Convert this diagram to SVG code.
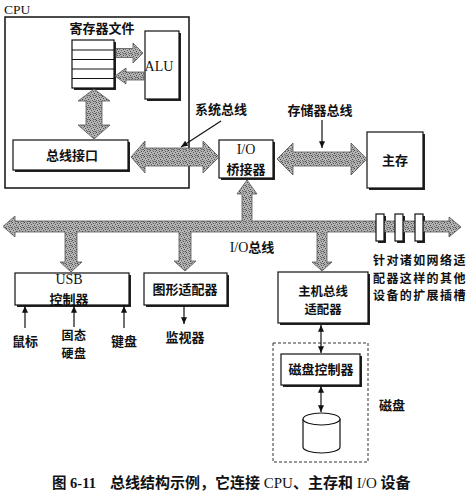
<svg xmlns="http://www.w3.org/2000/svg" width="476" height="500" viewBox="0 0 476 500">
<style>
.box{fill:#fff;stroke:#111;stroke-width:1.2}
.sh{fill:#222}
.zh{font-family:"Noto Sans CJK SC","Noto Sans",sans-serif;font-size:13px;font-weight:bold;fill:#111;text-anchor:middle}
.st{text-anchor:start}
.en{font-family:"Liberation Serif","Noto Sans CJK SC",serif;font-size:14px;font-weight:normal;fill:#111;text-anchor:middle}
.lat{font-family:"Liberation Serif",serif;font-weight:normal}
.big{fill:url(#stip);stroke:#555;stroke-width:0.8;stroke-linejoin:miter}
.thin{stroke:#111;stroke-width:1.2;fill:none}
</style>
<defs>
<pattern id="stip" width="6" height="6" patternUnits="userSpaceOnUse">
<rect width="6" height="6" fill="#b4b4b4"/>
<rect x="0" y="0" width="1" height="1" fill="#444"/>
<rect x="3" y="1" width="1" height="1" fill="#555"/>
<rect x="1" y="2" width="1" height="1" fill="#555"/>
<rect x="4" y="3" width="1" height="1" fill="#444"/>
<rect x="2" y="4" width="1" height="1" fill="#666"/>
<rect x="5" y="5" width="1" height="1" fill="#555"/>
<rect x="0" y="4" width="1" height="1" fill="#777"/>
<rect x="5" y="1" width="1" height="1" fill="#777"/>
<rect x="3" y="5" width="1" height="1" fill="#666"/>
<rect x="2" y="0" width="1" height="1" fill="#888"/>
<rect x="4" y="5" width="1" height="1" fill="#888"/>
</pattern>
<marker id="ah" viewBox="0 0 8 7" refX="8" refY="3.5" markerWidth="7" markerHeight="6" markerUnits="userSpaceOnUse" orient="auto-start-reverse">
<path d="M0,0 L8,3.5 L0,7 z" fill="#111"/>
</marker>
</defs>

<g id="cpu">
<text x="4" y="14" font-family="Liberation Serif,serif" font-size="13.5" fill="#111">CPU</text>
<rect x="5" y="17" width="184" height="171" fill="none" stroke="#111" stroke-width="1.5"/>
</g>

<g id="regfile">
<text class="zh" x="102" y="33">寄存器文件</text>
<rect class="sh" x="74" y="42" width="42" height="48"/>
<rect class="box" x="72" y="40" width="42" height="48"/>
<path d="M72,50H114M72,59.5H114M72,69H114M72,78.5H114" stroke="#111" stroke-width="1"/>
</g>

<g id="alu">
<rect class="sh" x="147" y="33" width="34" height="68"/>
<rect class="box" x="145" y="31" width="34" height="68"/>
<text class="en" x="159" y="71">ALU</text>
</g>

<g id="businterface">
<rect class="sh" x="15" y="142" width="115" height="30"/>
<rect class="box" x="13" y="140" width="115" height="30"/>
<text class="zh" x="72" y="160">总线接口</text>
</g>

<g id="iobridge">
<rect class="sh" x="221" y="142" width="54" height="38"/>
<rect class="box" x="219" y="140" width="54" height="38"/>
<text class="en" x="246" y="154">I/O</text>
<text class="zh" x="246" y="173.5">桥接器</text>
</g>

<g id="mainmem">
<rect class="sh" x="369" y="134" width="56" height="56"/>
<rect class="box" x="367" y="132" width="56" height="56"/>
<text class="zh" x="395" y="165">主存</text>
</g>

<g id="usb">
<rect class="sh" x="17" y="275" width="114" height="32"/>
<rect class="box" x="15" y="273" width="114" height="32"/>
<text class="en" x="69" y="284">USB</text>
<text class="zh" x="69" y="303.5">控制器</text>
</g>

<g id="graphics">
<rect class="sh" x="146" y="275" width="83" height="32"/>
<rect class="box" x="144" y="273" width="83" height="32"/>
<text class="zh" x="185" y="294">图形适配器</text>
</g>

<g id="hostadapter">
<rect class="sh" x="280" y="274" width="90" height="51"/>
<rect class="box" x="278" y="272" width="90" height="51"/>
<text class="zh" x="323" y="296" style="font-size:12.4px">主机总线<tspan x="323" dy="18.2">适配器</tspan></text>
</g>

<g id="disk">
<rect x="273" y="343" width="95" height="119" fill="none" stroke="#333" stroke-width="1" stroke-dasharray="3,2"/>
<text class="zh" x="392" y="410">磁盘</text>
</g>

<g id="diskcontroller">
<rect class="sh" x="283" y="356" width="79" height="31"/>
<rect class="box" x="281" y="354" width="79" height="31"/>
<text class="zh" x="321" y="374">磁盘控制器</text>
</g>

<g id="platter">
<path d="M303,419 L303,447 A18.5,6 0 0 0 340,447 L340,419" fill="#fff" stroke="#111" stroke-width="1.2"/>
<ellipse cx="321.5" cy="419" rx="18.5" ry="6" fill="#fff" stroke="#111" stroke-width="1.2"/>
</g>

<g id="devices">
<text class="zh" x="25" y="346">鼠标</text>
<text class="zh" x="74" y="340" style="font-size:12px;letter-spacing:0.5px">固态<tspan x="74" dy="17.6">硬盘</tspan></text>
<text class="zh" x="124" y="346">键盘</text>
<text class="zh" x="185" y="342">监视器</text>
</g>

<g id="slots">
<rect class="sh" x="378" y="216" width="8" height="27"/>
<rect class="sh" x="397" y="216" width="8" height="27"/>
<rect class="sh" x="417" y="216" width="8" height="27"/>
</g>

<g id="connectors">
<polygon class="big" points="131,157 145,141 145,148 203,148 203,141 219,157 203,173 203,166 145,166 145,173"/>
<polygon class="big" points="277,159 293,143 293,152 351,152 351,143 367,159 351,175 351,166 293,166 293,175"/>
<polygon class="big" points="116,48.5 133,48.5 133,43 143,53 133,63 133,57.5 116,57.5"/>
<polygon class="big" points="144,72 126,72 126,68 115,76 126,84 126,80 144,80"/>
<polygon class="big" points="94,89 110,101 102,101 102,125 110,125 94,139 78,125 86,125 86,101 78,101"/>
<polygon class="big" points="3,226.5 15,216 15,221 242,221 242,194 237,194 247,180 257,194 252,194 252,221 449,221 449,217 461,227 449,237 449,232 327,232 327,262 332,262 322,271 312,262 317,262 317,232 191,232 191,261 196,261 185,271 174,261 179,261 179,232 77,232 77,262 82,262 71,272 60,262 65,262 65,232 15,232 15,237"/>
<line class="thin" x1="221" y1="121" x2="181" y2="147" marker-end="url(#ah)"/>
<line class="thin" x1="322" y1="120" x2="322" y2="148" marker-end="url(#ah)"/>
<line class="thin" x1="25" y1="328" x2="25" y2="306" marker-end="url(#ah)"/>
<line class="thin" x1="74" y1="327" x2="74" y2="306" marker-end="url(#ah)"/>
<line class="thin" x1="124" y1="328" x2="124" y2="306" marker-end="url(#ah)"/>
<line class="thin" x1="184" y1="306" x2="184" y2="324" marker-end="url(#ah)"/>
<line class="thin" x1="321" y1="325" x2="321" y2="353" marker-start="url(#ah)" marker-end="url(#ah)"/>
<line class="thin" x1="321" y1="386" x2="321" y2="412" marker-start="url(#ah)" marker-end="url(#ah)"/>
</g>

<g id="slotcards">
<rect class="box" x="376" y="214" width="8" height="27"/>
<rect class="box" x="395" y="214" width="8" height="27"/>
<rect class="box" x="415" y="214" width="8" height="27"/>
</g>

<g id="labels">
<text class="zh" x="221" y="114">系统总线</text>
<text class="zh" x="320" y="115">存储器总线</text>
<text class="zh" x="252" y="252"><tspan class="lat" font-size="14">I/O</tspan>总线</text>
<text class="zh st" x="373" y="265" style="font-size:12px;letter-spacing:1.4px">针对诸如网络适<tspan x="373" dy="17.6">配器这样的其他</tspan><tspan x="373" dy="17.6">设备的扩展插槽</tspan></text>
</g>

<g id="caption">
<text x="52" y="488" font-family="Liberation Serif,Noto Sans CJK SC,serif" font-size="14.5" font-weight="bold" fill="#111">图 6-11</text>
<text x="110" y="488" font-family="Liberation Serif,Noto Sans CJK SC,serif" font-size="15" font-weight="bold" fill="#111">总线结构示例，它连接<tspan font-weight="normal"> CPU</tspan>、主存和<tspan font-weight="normal"> I/O </tspan>设备</text>
</g>
</svg>
